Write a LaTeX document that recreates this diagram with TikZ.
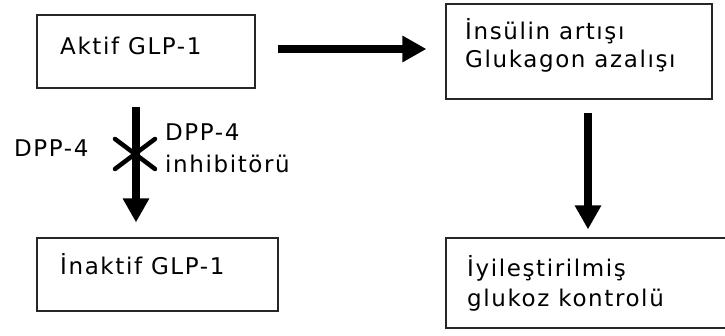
\documentclass[tikz,border=0pt]{standalone}
\usepackage{fontspec}
\setmainfont{DejaVu Sans}[LetterSpace=7]
\usetikzlibrary{arrows.meta}
\tikzset{
  box/.style={draw=black!85, line width=1.2pt, rectangle, inner sep=0pt},
  lbl/.style={inner sep=0pt, font=\fontsize{23}{28}\selectfont, anchor=base west},
  arr/.style={line width=7.5pt, -{Triangle[width=25pt,length=24pt]}},
  crossline/.style={line width=4.5pt, line cap=round}
}
\begin{document}
\begin{tikzpicture}[x=1pt,y=-1pt]
\useasboundingbox (0,0) rectangle (725,336);
% boxes
\node[box, minimum width=218pt, minimum height=73pt] (a) at (146,51.5) {};
\node[box, minimum width=266pt, minimum height=95pt] (c) at (579,51.5) {};
\node[box, minimum width=241pt, minimum height=73pt] (b) at (157.5,274.5) {};
\node[box, minimum width=290pt, minimum height=90pt] (d) at (591,283) {};
% texts
\node[lbl] (ta) at (60,55) {Aktif GLP-1};
\node[lbl] (tc1) at (465,40) {İnsülin artışı};
\node[lbl] (tc2) at (465,68) {Glukagon azalışı};
\node[lbl] (tb) at (60,275) {İnaktif GLP-1};
\node[lbl] (td1) at (467,277) {İyileştirilmiş};
\node[lbl] (td2) at (467,307) {glukoz kontrolü};
\node[lbl] (dl) at (14,157) {DPP-4};
\node[lbl] (dr1) at (165,141) {DPP-4};
\node[lbl] (dr2) at (165,173) {inhibitörü};
% helper coordinates for connector lines
\coordinate (hy) at (0,49);
\coordinate (lx) at (136,0);
\coordinate (rx) at (588,0);
% connectors
\draw[arr, shorten <=22pt, shorten >=19pt] (a.east |- hy) -- (c.west |- hy);
\draw[arr, shorten <=18pt, shorten >=15pt] (a.south -| lx) -- (b.north -| lx);
\draw[arr, shorten <=13pt, shorten >=8pt] (c.south -| rx) -- (d.north -| rx);
% cross (inhibition mark)
\draw[crossline] (115,139) -- (155,169);
\draw[crossline] (115,169) -- (155,139);
\end{tikzpicture}
\end{document}
